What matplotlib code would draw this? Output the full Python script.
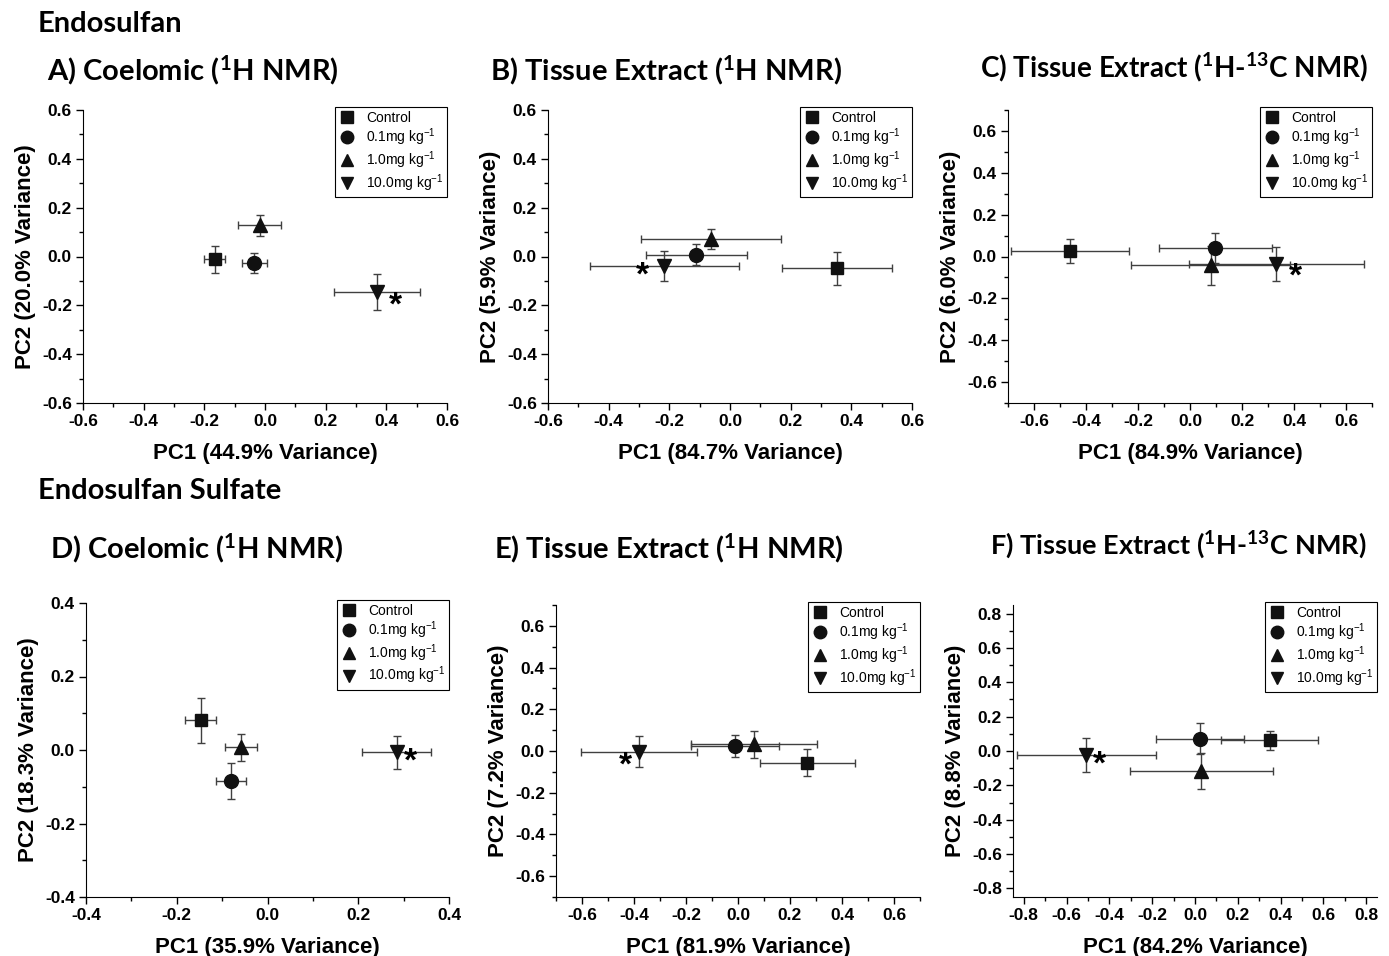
import matplotlib
matplotlib.use('Agg')
import matplotlib.pyplot as plt
from matplotlib.ticker import MultipleLocator, FormatStrFormatter

plt.rcParams['font.family'] = ['Liberation Sans', 'DejaVu Sans']
plt.rcParams['mathtext.default'] = 'regular'
plt.rcParams['axes.unicode_minus'] = False

groups = ['Control', '0.1mg kg$^{-1}$', '1.0mg kg$^{-1}$', '10.0mg kg$^{-1}$']
markers = ['s', 'o', '^', 'v']
msizes = [9, 10, 10, 10]

# panel data, order: Control, 0.1, 1.0, 10.0
a_x = [-0.166, -0.035, -0.018, 0.369]
a_xerr = [0.035, 0.042, 0.072, 0.143]
a_y = [-0.011, -0.026, 0.127, -0.145]
a_yerr = [0.056, 0.042, 0.042, 0.075]
a_star = (0.43, -0.205)

b_x = [0.353, -0.111, -0.063, -0.217]
b_xerr = [0.182, 0.166, 0.232, 0.246]
b_y = [-0.048, 0.008, 0.071, -0.038]
b_yerr = [0.068, 0.044, 0.041, 0.062]
b_star = (-0.288, -0.082)

c_x = [-0.461, 0.098, 0.079, 0.332]
c_xerr = [0.227, 0.218, 0.307, 0.336]
c_y = [0.026, 0.04, -0.042, -0.034]
c_yerr = [0.057, 0.07, 0.093, 0.081]
c_star = (0.407, -0.097)

d_x = [-0.147, -0.081, -0.059, 0.285]
d_xerr = [0.034, 0.033, 0.035, 0.076]
d_y = [0.081, -0.085, 0.007, -0.006]
d_yerr = [0.061, 0.049, 0.036, 0.045]
d_star = (0.315, -0.032)

e_x = [0.267, -0.012, 0.062, -0.38]
e_xerr = [0.182, 0.17, 0.243, 0.223]
e_y = [-0.057, 0.026, 0.032, -0.003]
e_yerr = [0.065, 0.053, 0.065, 0.073]
e_star = (-0.434, -0.07)

f_x = [0.349, 0.025, 0.03, -0.507]
f_xerr = [0.226, 0.205, 0.332, 0.324]
f_y = [0.063, 0.071, -0.117, -0.026]
f_yerr = [0.055, 0.09, 0.106, 0.099]
f_star = (-0.445, -0.084)

W, H = 1389, 956
fig = plt.figure(figsize=(W / 100, H / 100), dpi=100)

# (left, right, top, bottom) in pixels, limits, labels, data
panels = [
    ((83, 447, 110, 403), 0.6, 0.6, 'PC1 (44.9% Variance)', 'PC2 (20.0% Variance)',
     a_x, a_xerr, a_y, a_yerr, a_star),
    ((548, 912, 110, 403), 0.6, 0.6, 'PC1 (84.7% Variance)', 'PC2 (5.9% Variance)',
     b_x, b_xerr, b_y, b_yerr, b_star),
    ((1008, 1372, 110, 403), 0.7, 0.7, 'PC1 (84.9% Variance)', 'PC2 (6.0% Variance)',
     c_x, c_xerr, c_y, c_yerr, c_star),
    ((86, 449, 603, 897), 0.4, 0.4, 'PC1 (35.9% Variance)', 'PC2 (18.3% Variance)',
     d_x, d_xerr, d_y, d_yerr, d_star),
    ((556, 920, 605, 897), 0.7, 0.7, 'PC1 (81.9% Variance)', 'PC2 (7.2% Variance)',
     e_x, e_xerr, e_y, e_yerr, e_star),
    ((1013, 1377, 605, 897), 0.85, 0.85, 'PC1 (84.2% Variance)', 'PC2 (8.8% Variance)',
     f_x, f_xerr, f_y, f_yerr, f_star),
]

for (l, r, t, b), xl, yl, xlab, ylab, x, xerr, y, yerr, star in panels:
    ax = fig.add_axes([l / W, 1 - b / H, (r - l) / W, (b - t) / H])
    for i in range(4):
        ax.errorbar(x[i], y[i], xerr=xerr[i], yerr=yerr[i], fmt='none',
                    ecolor='#404040', elinewidth=1, capsize=3, capthick=1)
    for i in range(4):
        ax.plot(x[i], y[i], markers[i], color='#111111', markersize=msizes[i],
                label=groups[i], ls='none')
    ax.text(star[0], star[1], '*', fontsize=24, fontweight='bold',
            ha='center', va='center')
    ax.set_xlim(-xl, xl)
    ax.set_ylim(-yl, yl)
    for axis in (ax.xaxis, ax.yaxis):
        axis.set_major_locator(MultipleLocator(0.2))
        axis.set_minor_locator(MultipleLocator(0.1))
        axis.set_major_formatter(FormatStrFormatter('%.1f'))
    ax.spines['top'].set_visible(False)
    ax.spines['right'].set_visible(False)
    ax.tick_params(which='major', length=5, width=1, labelsize=12.5, direction='out', pad=3)
    ax.tick_params(which='minor', length=3, width=1, direction='out')
    for lab in ax.get_xticklabels() + ax.get_yticklabels():
        lab.set_fontweight('bold')
    ax.set_xlabel(xlab, fontsize=16, fontweight='bold', labelpad=10)
    ax.set_ylabel(ylab, fontsize=16, fontweight='bold', labelpad=4)
    leg = ax.legend(loc='upper right', bbox_to_anchor=(1.0, 1.01), borderaxespad=0,
                    fontsize=10, fancybox=False, edgecolor='black', framealpha=1,
                    handlelength=1.2, handletextpad=0.8, labelspacing=0.1,
                    borderpad=0.25, markerscale=0.9)
    leg.get_frame().set_linewidth(0.8)

title_font = ['Lato', 'DejaVu Sans']
fig.text(38 / W, 1 - 24 / H, 'Endosulfan', fontsize=21, fontweight='bold',
         family=title_font, va='center')
fig.text(38 / W, 1 - 491 / H, 'Endosulfan Sulfate', fontsize=21, fontweight='bold',
         family=title_font, va='center')
titles = [
    (47, 70, 'A) Coelomic ($^{1}$H NMR)', 21),
    (490, 70, 'B) Tissue Extract ($^{1}$H NMR)', 21),
    (980, 67, 'C) Tissue Extract ($^{1}$H-$^{13}$C NMR)', 20),
    (50, 548, 'D) Coelomic ($^{1}$H NMR)', 21),
    (494, 548, 'E) Tissue Extract ($^{1}$H NMR)', 21),
    (990, 545, 'F) Tissue Extract ($^{1}$H-$^{13}$C NMR)', 19.5),
]
for tx, ty, s, fs in titles:
    fig.text(tx / W, 1 - ty / H, s, fontsize=fs, fontweight='bold',
             family=title_font, va='center')

fig.savefig('out.png', dpi=100)
